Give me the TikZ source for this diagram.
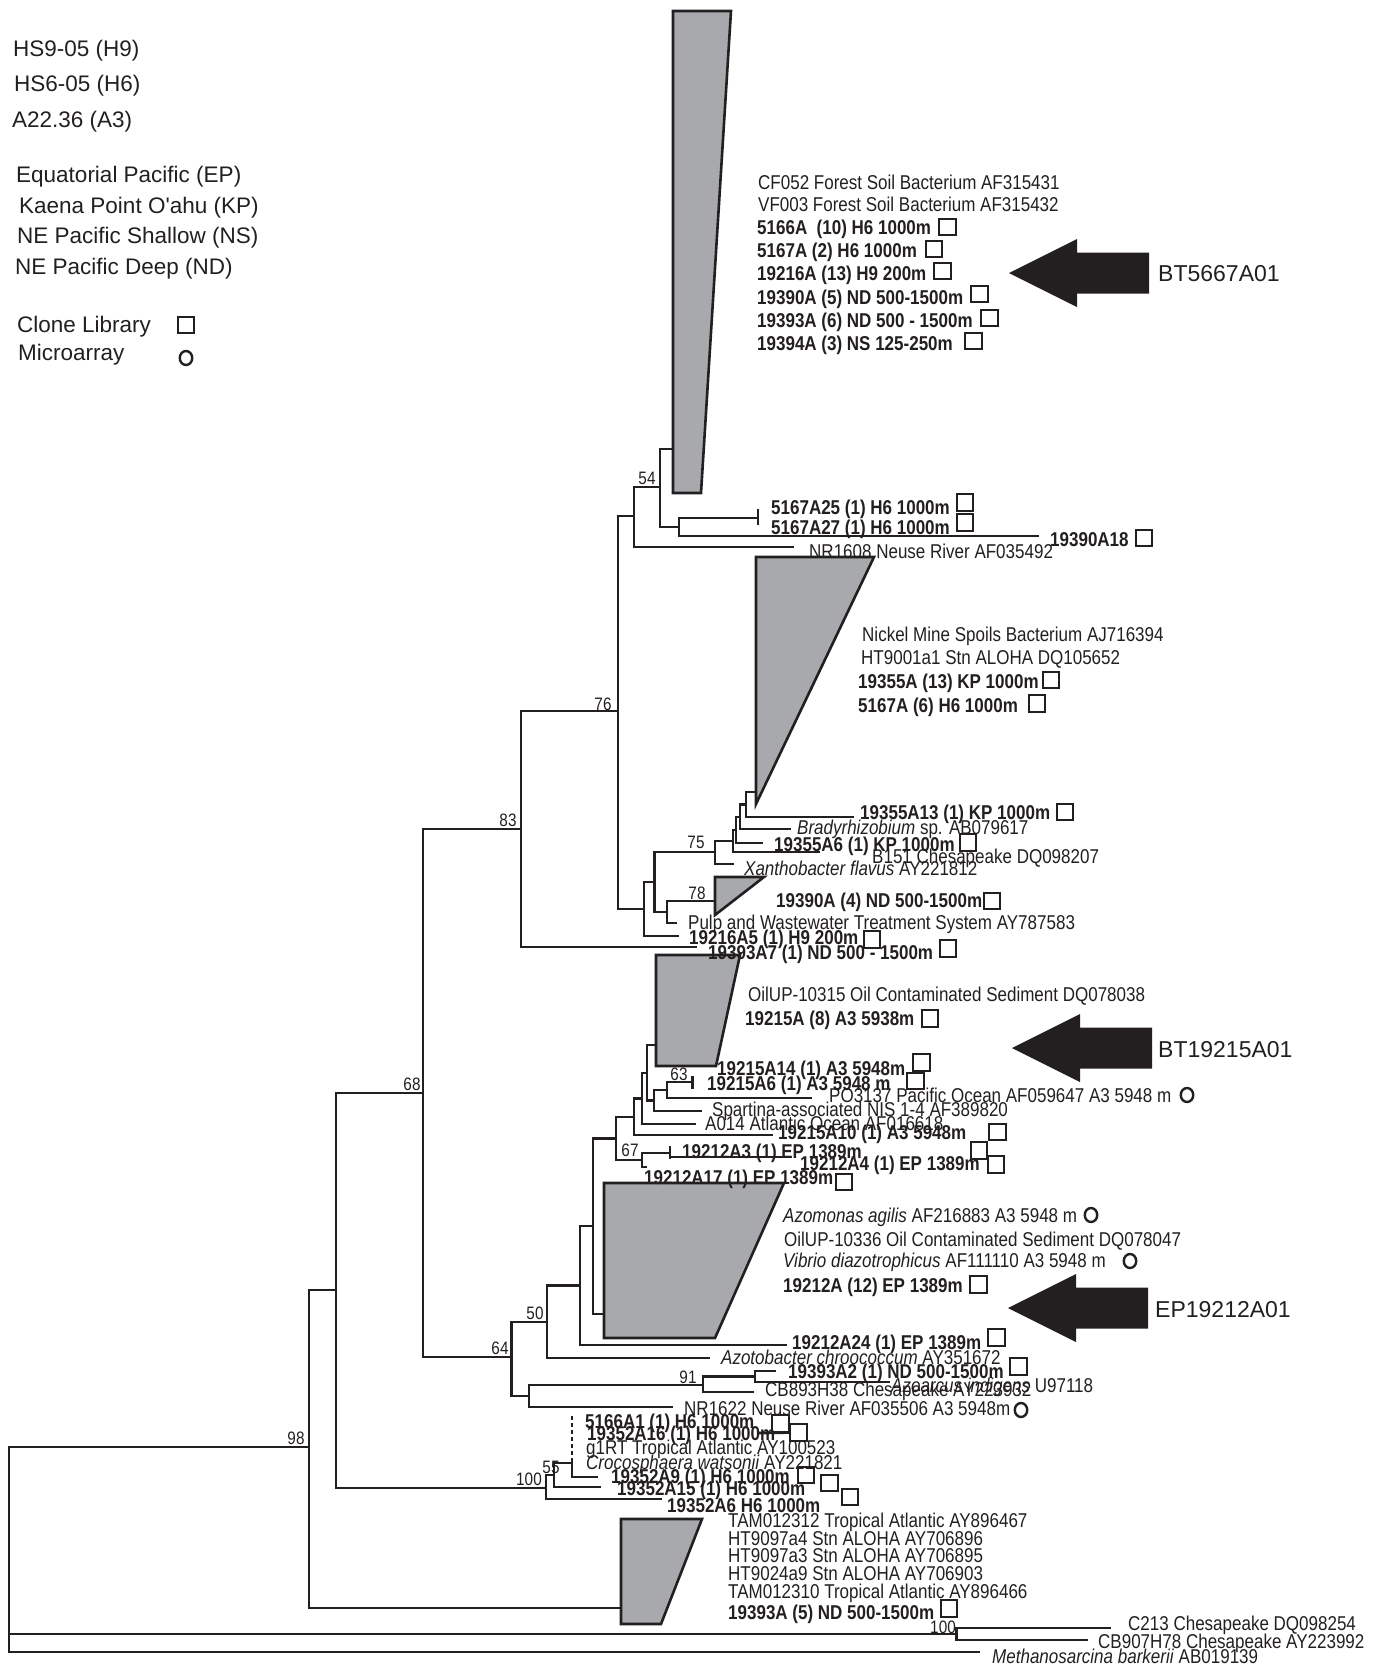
\documentclass[tikz,border=0pt]{standalone}
\usepackage{fontspec}
\newfontfamily\labf{Liberation Sans}[FakeStretch=0.85]
\newfontfamily\legf{Liberation Sans}
\usetikzlibrary{shapes.geometric}
\definecolor{wg}{HTML}{A7A9AC}
\definecolor{ink}{HTML}{231F20}
\newcommand\mkclade[3]{\draw[br] (#2) -| (#1 |- #3) -- (#3);}
\newcommand\bigarrow[2]{\fill[ink] (#1,#2) -- ++(68,-34) -- ++(0,13.5) -- ++(72,0) -- ++(0,41) -- ++(-72,0) -- ++(0,13.5) -- cycle;}
\begin{document}
\begin{tikzpicture}[x=1pt,y=-1pt,
  br/.style={line width=2.8pt, draw=ink, line cap=rect},
  lab/.style={anchor=west, inner sep=0pt, text height=14.3pt, text depth=0pt, font=\labf\fontsize{20}{24}\selectfont, text=ink},
  blab/.style={lab, font=\labf\bfseries\fontsize{20}{24}\selectfont},
  bs/.style={anchor=center, inner sep=0pt, text height=12.9pt, text depth=0pt, font=\labf\fontsize{18}{22}\selectfont, text=ink},
  leg/.style={anchor=west, inner sep=0pt, text height=16.1pt, text depth=0pt, font=\legf\fontsize{22.5}{27}\selectfont, text=ink},
  sq/.style={draw=ink, line width=2.4pt, minimum size=16.5pt, inner sep=0pt, shape=rectangle},
  ci/.style={draw=ink, line width=2.4pt, shape=ellipse, minimum width=12.5pt, minimum height=14pt, inner sep=0pt},
  wedge/.style={fill=wg, draw=ink, line width=2.6pt, line join=miter}]
\useasboundingbox (0,0) rectangle (1373,1666);

% ---------- legend ----------
\node[leg] (g1) at (13,48) {HS9-05 (H9)};
\node[leg] (g2) at (14,83) {HS6-05 (H6)};
\node[leg] (g3) at (12,119) {A22.36 (A3)};
\node[leg] (g4) at (16,174) {Equatorial Pacific (EP)};
\node[leg] (g5) at (19,205) {Kaena Point O\textquotesingle ahu (KP)};
\node[leg] (g6) at (17,235) {NE Pacific Shallow (NS)};
\node[leg] (g7) at (15,266) {NE Pacific Deep (ND)};
\node[leg] (g8) at (17,324) {Clone Library};
\node[leg] (g9) at (18,352) {Microarray};
\node[sq] (gs) at (186,325) {};
\node[ci] (gc) at (186,358) {};

% ---------- tree coordinates ----------
\coordinate (root) at (9,1540);
\coordinate (n98) at (309,1447);
\coordinate (nX) at (336,1290);
\coordinate (n68) at (423,1093);
\coordinate (n83) at (521,829);
\coordinate (n76) at (618,711);
\coordinate (nB) at (634,516);
\coordinate (nA) at (660,487);
\coordinate (nC) at (679,527);
\coordinate (nD) at (758,518);
\coordinate (nE) at (644,909);
\coordinate (nF) at (654.6,882);
\coordinate (n75) at (715,852);
\coordinate (nR2) at (733,841);
\coordinate (nR) at (736,830);
\coordinate (nS) at (740,817);
\coordinate (nT) at (746,804.5);
\coordinate (nG) at (667,912);
\coordinate (n64) at (511.6,1357);
\coordinate (n50) at (547,1322);
\coordinate (nH) at (580,1285.5);
\coordinate (nI) at (593,1226);
\coordinate (nJ) at (616,1138.5);
\coordinate (nK) at (634,1117);
\coordinate (nL) at (642,1098.5);
\coordinate (nM) at (647,1073);
\coordinate (nN) at (654,1100.5);
\coordinate (n63) at (667,1090);
\coordinate (nP) at (692.7,1082);
\coordinate (n67) at (642,1160);
\coordinate (nQ7) at (670,1153);
\coordinate (nU) at (529,1396);
\coordinate (n91) at (703,1385);
\coordinate (nV) at (755,1376.5);
\coordinate (n100) at (546,1488);
\coordinate (n55) at (554,1475);
\coordinate (nQ) at (572,1463);
\coordinate (nW) at (956.6,1634);
% leaves / wedge attachment points
\coordinate (lMeth) at (979,1652);
\coordinate (w6c) at (621,1608);
\coordinate (l19393A7) at (696,947);
\coordinate (lNR1608) at (793,547);
\coordinate (w1c) at (673,449);
\coordinate (l19390A18) at (1038,536);
\coordinate (l19216A5) at (678,936);
\coordinate (lXan) at (733,864);
\coordinate (lB151) at (819,852);
\coordinate (l19355A6) at (762,843);
\coordinate (lBrady) at (790,829);
\coordinate (w2c) at (756,792);
\coordinate (l19355A13) at (853,817);
\coordinate (w3c) at (715,901);
\coordinate (lPulp) at (676,923);
\coordinate (lAzoto) at (709,1358);
\coordinate (l19212A24) at (786,1345);
\coordinate (w5c) at (604,1314);
\coordinate (l19215A10) at (772,1135);
\coordinate (lA014) at (695,1124);
\coordinate (w4c) at (656,1045);
\coordinate (lSpart) at (701,1111);
\coordinate (lPO) at (811,1098);
\coordinate (l19212A17) at (646,1167);
\coordinate (lNR1622) at (672,1407);
\coordinate (lCB893) at (753,1392);
\coordinate (l19393A2) at (775,1371);
\coordinate (lAzoarc) at (889,1382);
\coordinate (l19352A6) at (661,1499);
\coordinate (l19352A15) at (600,1487);
\coordinate (l19352A9) at (597,1477);
\coordinate (lC213) at (1110,1628);
\coordinate (lCB907) at (1087,1640);

% ---------- tree branches ----------
\mkclade{root}{n98}{lMeth}
\draw[br] (root |- nW) -- (nW);
\mkclade{n98}{nX}{w6c}
\mkclade{nX}{n68}{n100}
\mkclade{n68}{n83}{n64}
\mkclade{n83}{n76}{l19393A7}
\mkclade{n76}{nB}{nE}
\mkclade{nB}{nA}{lNR1608}
\mkclade{nA}{w1c}{nC}
\mkclade{nC}{nD}{l19390A18}
\draw[br] (nD) ++(0,-8) -- ++(0,14);
\mkclade{nE}{nF}{l19216A5}
\mkclade{nF}{n75}{nG}
\mkclade{n75}{nR2}{lXan}
\mkclade{nR2}{nR}{lB151}
\mkclade{nR}{nS}{l19355A6}
\mkclade{nS}{nT}{lBrady}
\mkclade{nT}{w2c}{l19355A13}
\mkclade{nG}{w3c}{lPulp}
\mkclade{n64}{n50}{nU}
\mkclade{n50}{nH}{lAzoto}
\mkclade{nH}{nI}{l19212A24}
\mkclade{nI}{nJ}{w5c}
\mkclade{nJ}{nK}{n67}
\mkclade{nK}{nL}{l19215A10}
\mkclade{nL}{nM}{lA014}
\mkclade{nM}{w4c}{nN}
\mkclade{nN}{n63}{lSpart}
\mkclade{n63}{nP}{lPO}
\draw[br] (nP) ++(0,-5) -- ++(0,11);
\mkclade{n67}{nQ7}{l19212A17}
\draw[br] (nQ7) ++(0,-6) -- ++(0,11);
\draw[br] (nQ7) ++(0,4) -- (786,1157);
\mkclade{nU}{n91}{lNR1622}
\mkclade{n91}{nV}{lCB893}
\mkclade{nV}{l19393A2}{lAzoarc}
\mkclade{n100}{n55}{l19352A6}
\mkclade{n55}{nQ}{l19352A15}
\draw[br, dash pattern=on 4pt off 3pt, line cap=butt] (nQ) ++(0,-47) -- ++(0,44);
\draw[br] (nQ) ++(0,-3) |- (l19352A9);
\mkclade{nW}{lC213}{lCB907}

% ---------- collapsed clades ----------
\draw[wedge] (673,11) -- (731,11) -- (701,493) -- (673,493) -- cycle;
\draw[wedge] (756,557) -- (874,557) -- (756,804) -- cycle;
\draw[wedge] (715,877) -- (764,877) -- (715,915) -- cycle;
\draw[wedge] (656,955) -- (740,955) -- (716,1066) -- (656,1066) -- cycle;
\draw[wedge] (604,1183) -- (784,1183) -- (715,1338) -- (604,1338) -- cycle;
\draw[wedge] (621,1519) -- (702,1519) -- (661,1624) -- (621,1624) -- cycle;

% ---------- arrows ----------
\bigarrow{1009}{273}
\bigarrow{1012}{1048}
\bigarrow{1008}{1308}
\node[leg] (a1) at (1158,273) {\fontsize{23}{27}\selectfont BT5667A01};
\node[leg] (a2) at (1158,1049) {\fontsize{23}{27}\selectfont BT19215A01};
\node[leg] (a3) at (1155,1309) {\fontsize{23}{27}\selectfont EP19212A01};

% ---------- bootstrap values ----------
\node[bs] (b54) at (647,478) {54};
\node[bs] (b76) at (603,704) {76};
\node[bs] (b83) at (508,820) {83};
\node[bs] (b68) at (412,1084) {68};
\node[bs] (b75) at (696,842) {75};
\node[bs] (b78) at (697,893) {78};
\node[bs] (b63) at (679,1074) {63};
\node[bs] (b67) at (630,1150) {67};
\node[bs] (b50) at (535,1313) {50};
\node[bs] (b64) at (500,1348) {64};
\node[bs] (b91) at (688,1377) {91};
\node[bs] (b98) at (296,1438) {98};
\node[bs] (b100) at (529,1479) {100};
\node[bs] (b55) at (551,1467) {55};
\node[bs] (b100b) at (943,1627) {100};

% ---------- taxon labels ----------
\node[lab] (t1) at (758,182) {CF052 Forest Soil Bacterium AF315431};
\node[lab] (t2) at (758,204.5) {VF003 Forest Soil Bacterium AF315432};
\node[blab] (t3) at (757,227) {5166A\ \ (10) H6 1000m};
\node[blab] (t4) at (757,250) {5167A (2) H6 1000m};
\node[blab] (t5) at (757,273) {19216A (13) H9 200m};
\node[blab] (t6) at (757,297) {19390A (5) ND 500-1500m};
\node[blab] (t7) at (757,320) {19393A (6) ND 500 - 1500m};
\node[blab] (t8) at (757,343.5) {19394A (3) NS 125-250m};
\node[blab] (t9) at (771,507) {5167A25 (1) H6 1000m};
\node[blab] (t10) at (771,527) {5167A27 (1) H6 1000m};
\node[blab] (t11) at (1050,539) {19390A18};
\node[lab] (t12) at (809,551) {NR1608 Neuse River AF035492};
\node[lab] (t13) at (862,634) {Nickel Mine Spoils Bacterium AJ716394};
\node[lab] (t14) at (861,657) {HT9001a1 Stn ALOHA DQ105652};
\node[blab] (t15) at (858,681) {19355A (13) KP 1000m};
\node[blab] (t16) at (858,705) {5167A (6) H6 1000m};
\node[blab] (t17) at (860,812.5) {19355A13 (1) KP 1000m};
\node[lab] (t18) at (797,827) {\textit{Bradyrhizobium} sp. AB079617};
\node[blab] (t19) at (774,844) {19355A6 (1) KP 1000m};
\node[lab] (t20) at (872,856) {B151 Chesapeake DQ098207};
\node[lab] (t21) at (744,868.5) {\textit{Xanthobacter flavus} AY221812};
\node[blab] (t22) at (776,900) {19390A (4) ND 500-1500m};
\node[lab] (t23) at (688,922.5) {Pulp and Wastewater Treatment System AY787583};
\node[blab] (t24) at (689,937) {19216A5 (1) H9 200m};
\node[blab] (t25) at (708,952) {19393A7 (1) ND 500 - 1500m};
\node[lab] (t26) at (748,994.5) {OilUP-10315 Oil Contaminated Sediment DQ078038};
\node[blab] (t27) at (745,1018) {19215A (8) A3 5938m};
\node[blab] (t28) at (717,1068) {19215A14 (1) A3 5948m};
\node[blab] (t29) at (707,1083) {19215A6 (1) A3 5948 m};
\node[lab] (t30) at (829,1095) {PO3137 Pacific Ocean AF059647 A3 5948 m};
\node[lab] (t31) at (712,1109) {Spartina-associated NIS 1-4 AF389820};
\node[lab] (t32) at (705,1123) {A014 Atlantic Ocean AF016618};
\node[blab] (t33) at (778,1132) {19215A10 (1) A3 5948m};
\node[blab] (t34) at (682,1151) {19212A3 (1) EP 1389m};
\node[blab] (t35) at (800,1163.5) {19212A4 (1) EP 1389m};
\node[blab] (t36) at (644,1177) {19212A17 (1) EP 1389m};
\node[lab] (t37) at (783,1215) {\textit{Azomonas agilis} AF216883 A3 5948 m};
\node[lab] (t38) at (784,1239.5) {OilUP-10336 Oil Contaminated Sediment DQ078047};
\node[lab] (t39) at (783,1260) {\textit{Vibrio diazotrophicus} AF111110 A3 5948 m};
\node[blab] (t40) at (783,1285) {19212A (12) EP 1389m};
\node[blab] (t41) at (792,1342) {19212A24 (1) EP 1389m};
\node[lab] (t42) at (721,1357) {\textit{Azotobacter chroococcum} AY351672};
\node[blab] (t43) at (788,1371) {19393A2 (1) ND 500-1500m};
\node[lab] (t44) at (891,1385) {\textit{Azoarcus indigens} U97118};
\node[lab] (t45) at (765,1389) {CB893H38 Chesapeake AY223932};
\node[lab] (t46) at (684,1408) {NR1622 Neuse River AF035506 A3 5948m};
\node[blab] (t47) at (585,1421) {5166A1 (1) H6 1000m};
\node[blab] (t48) at (587,1433) {19352A16 (1) H6 1000m};
\node[lab] (t49) at (586,1447) {g1RT Tropical Atlantic AY100523};
\node[lab] (t50) at (586,1462) {\textit{Crocosphaera watsonii} AY221821};
\node[blab] (t51) at (611,1476) {19352A9 (1) H6 1000m};
\node[blab] (t52) at (617,1488) {19352A15 (1) H6 1000m};
\node[blab] (t53) at (667,1505) {19352A6 H6 1000m};
\node[lab] (t54) at (728,1520) {TAM012312 Tropical Atlantic AY896467};
\node[lab] (t55) at (728,1538) {HT9097a4 Stn ALOHA AY706896};
\node[lab] (t56) at (728,1555.5) {HT9097a3 Stn ALOHA AY706895};
\node[lab] (t57) at (728,1573) {HT9024a9 Stn ALOHA AY706903};
\node[lab] (t58) at (728,1591) {TAM012310 Tropical Atlantic AY896466};
\node[blab] (t59) at (728,1612) {19393A (5) ND 500-1500m};
\node[lab] (t60) at (1128,1623) {C213 Chesapeake DQ098254};
\node[lab] (t61) at (1098,1641) {CB907H78 Chesapeake AY223992};
\node[lab] (t62) at (992,1656) {\textit{Methanosarcina barkerii} AB019139};

% ---------- markers ----------
\node[sq] (s3) at (947.5,227) {};
\node[sq] (s4) at (934,249) {};
\node[sq] (s5) at (942.5,271) {};
\node[sq] (s6) at (979.5,294) {};
\node[sq] (s7) at (989.5,318) {};
\node[sq] (s8) at (973.5,341) {};
\node[sq] (s9) at (965,502.5) {};
\node[sq] (s10) at (965,522.5) {};
\node[sq] (s11) at (1144,538) {};
\node[sq] (s15) at (1051,680) {};
\node[sq] (s16) at (1037,703.5) {};
\node[sq] (s17) at (1065,812) {};
\node[sq] (s19) at (968,842.5) {};
\node[sq] (s22) at (992,901) {};
\node[sq] (s24) at (872,939.5) {};
\node[sq] (s25) at (948,948.5) {};
\node[sq] (s27) at (930,1018.5) {};
\node[sq] (s28) at (921.5,1062.5) {};
\node[sq] (s29) at (915.5,1081) {};
\node[sq] (s33) at (997.5,1132) {};
\node[sq] (s34) at (979,1150.5) {};
\node[sq] (s35) at (996,1164.5) {};
\node[sq] (s36) at (844,1182) {};
\node[sq] (s40) at (978.5,1284.5) {};
\node[sq] (s41) at (996.5,1337.5) {};
\node[sq] (s43) at (1018.5,1366.5) {};
\node[sq] (s47) at (780.5,1423.5) {};
\node[sq] (s48) at (798.5,1432.5) {};
\draw[br, line cap=butt] (759,1433) -- (s48.west);
\node[sq] (s51) at (806,1475) {};
\node[sq] (s52) at (829.5,1483) {};
\node[sq] (s53) at (850,1497) {};
\node[sq] (s59) at (949,1608.5) {};
\node[ci] (c30) at (1187,1095) {};
\node[ci] (c37) at (1091,1215) {};
\node[ci] (c39) at (1130,1261) {};
\node[ci] (c46) at (1021,1410) {};
\end{tikzpicture}
\end{document}
